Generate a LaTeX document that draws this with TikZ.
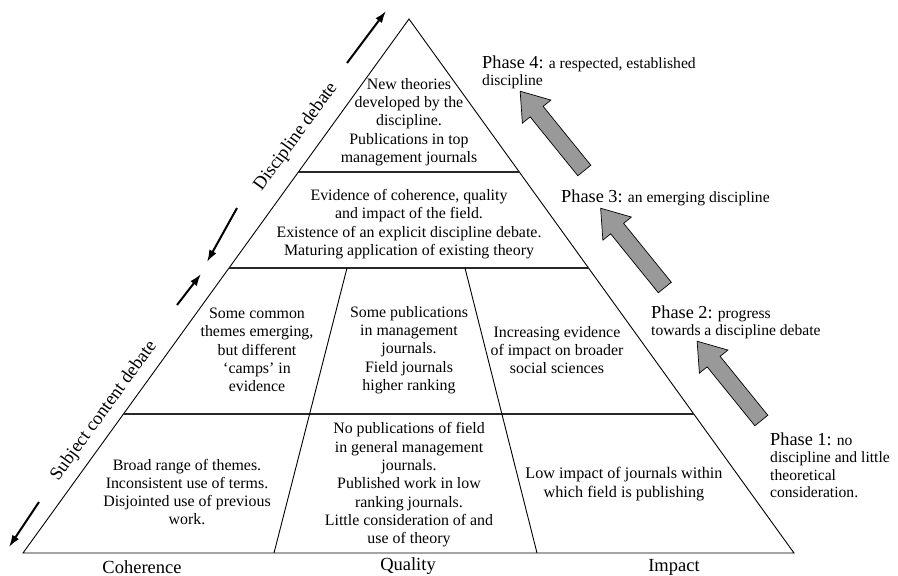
\documentclass[tikz,border=0pt]{standalone}
\usepackage{fontspec}
\setmainfont{Liberation Serif}
\usetikzlibrary{arrows.meta,calc,shapes.arrows}
\definecolor{phasegray}{RGB}{153,153,153}
\definecolor{tierdark}{RGB}{40,40,40}
\tikzset{
  tiertext/.style={align=center,inner sep=0pt,font=\fontsize{15.9}{18.3}\selectfont},
  axislabel/.style={inner sep=0pt,font=\fontsize{18.5}{20}\selectfont},
  phasetext/.style={align=left,inner sep=0pt,anchor=north west,font=\fontsize{15.6}{17.3}\selectfont},
  phasearrow/.style={single arrow,draw=black,fill=phasegray,line width=0.7pt,inner sep=0pt,
    text height=16pt,text depth=0pt,minimum height=102pt,single arrow head extend=10pt,
    single arrow tip angle=70,rotate=129},
  debatearrow/.style={-{Latex[length=12pt,width=8pt]},line width=2pt},
  pyramid/.style={line width=0.9pt},
  tierline/.style={line width=1.2pt,draw=tierdark}
}
\newcommand{\phasehead}[1]{{\fontsize{18.3}{17.3}\selectfont Phase #1:}}
\begin{document}
\begin{tikzpicture}[x=1pt,y=-1pt]
  \useasboundingbox (0,0) rectangle (898,576);
  \coordinate (apex) at (409,19);
  \coordinate (bl) at (23,553);
  \coordinate (br) at (794,553);
  \draw[pyramid] (apex) -- (bl) -- (br) -- cycle;
  \draw[tierline] ($(apex)!0.2865!(bl)$) -- ($(apex)!0.2865!(br)$);
  \draw[tierline] ($(apex)!0.4663!(bl)$) -- ($(apex)!0.4663!(br)$);
  \draw[tierline] ($(apex)!0.7397!(bl)$) -- ($(apex)!0.7397!(br)$);
  \draw[pyramid] (347,268) -- (274,553);
  \draw[pyramid] (465,268) -- (537,553);

  \node[tiertext] (top) at (409,122) {New theories\\developed by the\\discipline.\\Publications in top\\management journals};
  \node[tiertext] (upper) at (409,224) {Evidence of coherence, quality\\and impact of the field.\\Existence of an explicit discipline debate.\\Maturing application of existing theory};
  \node[tiertext] (midcoh) at (257,350) {Some common\\themes emerging,\\but different\\`camps' in\\evidence};
  \node[tiertext] (midqual) at (409,350) {Some publications\\in management\\journals.\\Field journals\\higher ranking};
  \node[tiertext] (midimp) at (557,350) {Increasing evidence\\of impact on broader\\social sciences};
  \node[tiertext] (lowcoh) at (187,492) {Broad range of themes.\\Inconsistent use of terms.\\Disjointed use of previous\\work.};
  \node[tiertext] (lowqual) at (409,485) {No publications of field\\in general management\\journals.\\Published work in low\\ranking journals.\\Little consideration of and\\use of theory};
  \node[tiertext,font=\fontsize{16.2}{18.3}\selectfont] (lowimp) at (624,484) {Low impact of journals within\\which field is publishing};

  \node[axislabel] (coh) at (142,567) {Coherence};
  \node[axislabel] (qual) at (408,566) {Quality};
  \node[axislabel] (imp) at (674,567) {Impact};
  \node[axislabel,rotate=54] (disc) at (296,137) {Discipline debate};
  \node[axislabel,rotate=54] (subj) at (104,411) {Subject content debate};

  \node[phasetext] (ph4) at (482,55.5) {\phasehead{4} a respected, established\\discipline};
  \node[phasetext] (ph3) at (561,189.5) {\phasehead{3} an emerging discipline};
  \node[phasetext] (ph2) at (651,305.5) {\phasehead{2} progress\\towards a discipline debate};
  \node[phasetext] (ph1) at (770,432.5) {\phasehead{1} no\\discipline and little\\theoretical\\consideration.};

  \node[phasearrow] (up34) at (556,135.5) {};
  \node[phasearrow] (up23) at (636.5,252.5) {};
  \node[phasearrow] (up12) at (733,385.5) {};

  \coordinate (d1s) at (347,63);
  \coordinate (d1e) at (386,11);
  \coordinate (d2s) at (237,208);
  \coordinate (d2e) at (207,262);
  \coordinate (d3s) at (177,305);
  \coordinate (d3e) at (201,274);
  \coordinate (d4s) at (39,502);
  \coordinate (d4e) at (9,547);
  \draw[debatearrow] (d1s) -- (d1e);
  \draw[debatearrow] (d2s) -- (d2e);
  \draw[debatearrow] (d3s) -- (d3e);
  \draw[debatearrow] (d4s) -- (d4e);
\end{tikzpicture}
\end{document}
